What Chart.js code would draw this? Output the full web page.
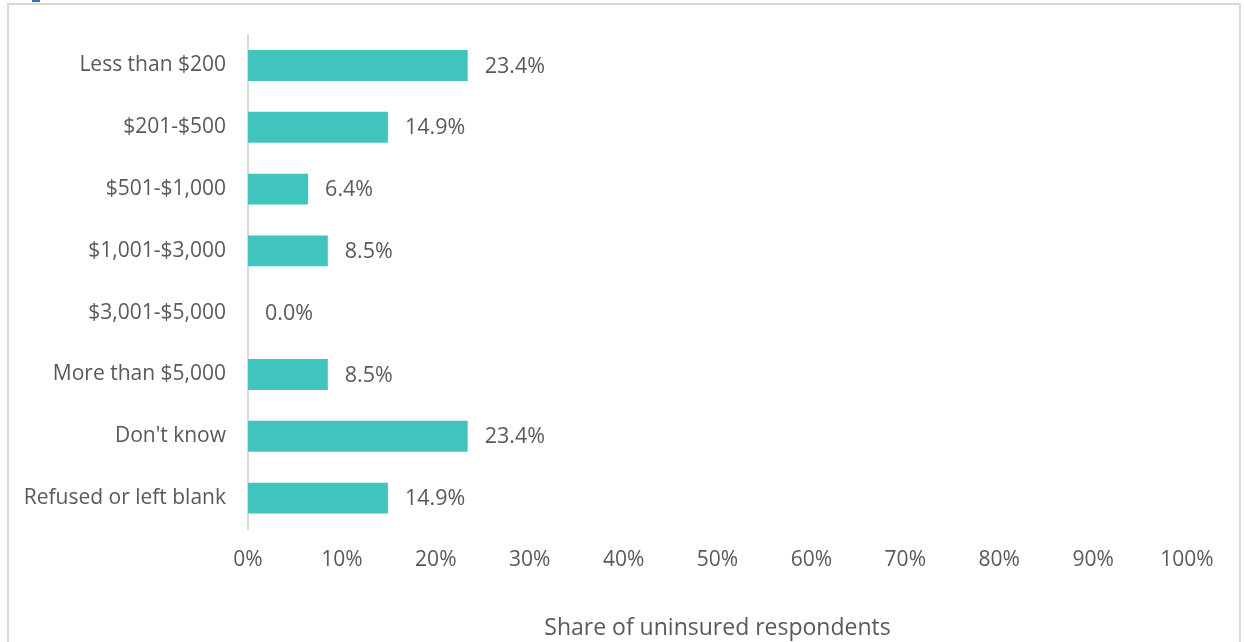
<!DOCTYPE html>
<html><head><meta charset="utf-8">
<script src="https://cdn.jsdelivr.net/npm/chart.js@4.4.1/dist/chart.umd.min.js"></script>
<style>html,body{margin:0;padding:0;background:#fff;overflow:hidden}#wrap{position:absolute;left:0;top:0;width:1244px;height:642px}</style>
</head><body><div id="wrap"><canvas id="c" width="1244" height="642"></canvas></div>
<script>
const categories = ["Less than $200","$201-$500","$501-$1,000","$1,001-$3,000","$3,001-$5,000","More than $5,000","Don't know","Refused or left blank"];
const shares = [23.4,14.9,6.4,8.5,0.0,8.5,23.4,14.9];
const xTicks = [0,10,20,30,40,50,60,70,80,90,100];
const axisTitle = "Share of uninsured respondents";

const FONT = "'Open Sans', sans-serif";
const TXT = '#595959';

const frame = {
  id:'frame',
  beforeDraw(chart){
    const ctx = chart.ctx;
    ctx.save();
    ctx.fillStyle='#fff'; ctx.fillRect(0,0,chart.width,chart.height);
    ctx.strokeStyle='#d9d9d9'; ctx.lineWidth=2;
    ctx.strokeRect(8,4,1232,700);
    ctx.fillStyle='#2e75b6'; ctx.fillRect(32,0,8,2);
    ctx.restore();
  }
};
const valueLabels = {
  id:'valueLabels',
  afterDatasetsDraw(chart){
    const ctx = chart.ctx;
    const meta = chart.getDatasetMeta(0);
    ctx.save();
    ctx.font = "21.5px " + FONT;
    ctx.fillStyle = TXT;
    ctx.textAlign='left'; ctx.textBaseline='middle';
    meta.data.forEach((bar,i)=>{
      ctx.fillText(shares[i].toFixed(1)+'%', bar.x + 17, bar.y + 1);
    });
    ctx.restore();
  }
};

new Chart(document.getElementById('c'),{
  type:'bar',
  data:{labels:categories,datasets:[{data:shares,backgroundColor:'#40c4be',borderWidth:0,categoryPercentage:1,barPercentage:0.5}]},
  options:{
    indexAxis:'y',responsive:false,animation:false,
    layout:{padding:{top:33,right:57,left:0,bottom:0}},
    plugins:{legend:{display:false},tooltip:{enabled:false}},
    scales:{
      x:{min:0,max:100,
        afterBuildTicks(ax){ax.ticks = xTicks.map(v=>({value:v}));},
        afterFit(ax){ax.height=113;},
        grid:{display:false,drawTicks:false},
        border:{display:false},
        ticks:{font:{family:FONT,size:21},color:TXT,padding:18,callback:v=>v+'%',maxRotation:0},
        title:{display:true,text:axisTitle,font:{family:FONT,size:23},color:TXT,padding:{top:0,bottom:0}}
      },
      y:{
        afterFit(ax){ax.width=248;},
        grid:{display:false,drawTicks:false},
        border:{display:true,color:'#d9d9d9',width:2},
        ticks:{font:{family:FONT,size:21},color:TXT,padding:22}
      }
    }
  },
  plugins:[frame,valueLabels]
});
</script></body></html>
